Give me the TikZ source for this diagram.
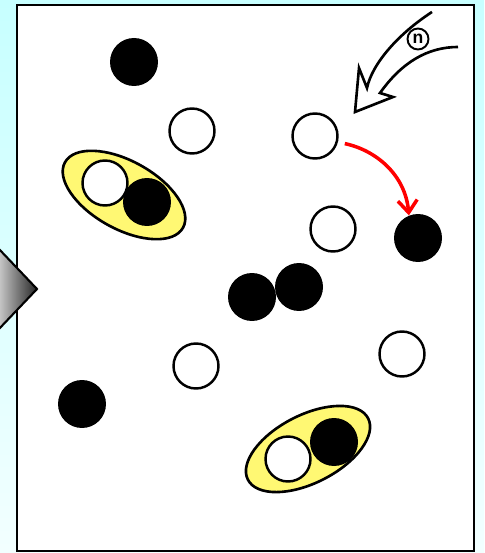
\documentclass[tikz,border=0pt]{standalone}
\usepackage{fontspec}
\setmainfont{Liberation Sans}
\usepackage{tikz}
\usetikzlibrary{arrows.meta}
\usetikzlibrary{shapes.geometric}

\begin{document}
\begin{tikzpicture}[
    x=0.02cm, y=-0.02cm,
    wht/.style={circle, draw=black, line width=1.4pt, fill=white, minimum size=0.9cm, inner sep=0pt},
    blk/.style={circle, fill=black, minimum size=0.96cm, inner sep=0pt},
    pair/.style={ellipse, draw=black, line width=1.5pt, fill=yellow!55, minimum width=2.7cm, minimum height=1.36cm, inner sep=0pt}
]
\useasboundingbox (0,0) rectangle (484,553);

% Background
\shade[top color=cyan!22, bottom color=cyan!5] (0,0) rectangle (484,553);

% Box
\draw[line width=1.3pt, fill=white] (17,5) rectangle (474,551);

% Gray pointer on the left
\shade[left color=gray!40, right color=black!85] (-2,248) -- (37,289) -- (-2,330) -- cycle;
\draw[line width=1.2pt, line join=miter] (-2,248) -- (37,289) -- (-2,330);

% Paired particles
\node[pair, rotate=-29] (pairA) at (124,195) {};
\node[pair, rotate=27] (pairB) at (308,449) {};
\node[wht] (wA) at (105,183) {};
\node[blk] (bA) at (147,202) {};
\node[wht] (wB) at (288,459) {};
\node[blk] (bB) at (334,442) {};

% Free particles
\node[blk] (b1) at (134,62) {};
\node[wht] (w1) at (192,131) {};
\node[wht] (w2) at (315,136) {};
\node[wht] (w3) at (333,229) {};
\node[blk] (b2) at (418,238) {};
\node[blk] (b3) at (252,297) {};
\node[blk] (b4) at (299,287) {};
\node[wht] (w4) at (196,366) {};
\node[wht] (w5) at (402,354) {};
\node[blk] (b5) at (82,404) {};

% Incoming neutrons
\draw[line width=1.5pt, fill=white, line join=miter]
  (432,12) .. controls (398,34) and (372,64) .. (367,88) -- (359,68) -- (355,112)
  -- (393,97) -- (380,93) .. controls (402,62) and (428,47) .. (458,47);
\node[circle, draw=black, line width=1.1pt, fill=white, minimum size=0.42cm, inner sep=0pt, font=\bfseries] (nlbl) at (418,39) {n};

% Conversion
\draw[red, line width=2pt, shorten <=4pt, -{Straight Barb[length=7pt, width=11pt]}]
  (w2.-15) to[out=-12, in=95] (b2.112);

\end{tikzpicture}
\end{document}
